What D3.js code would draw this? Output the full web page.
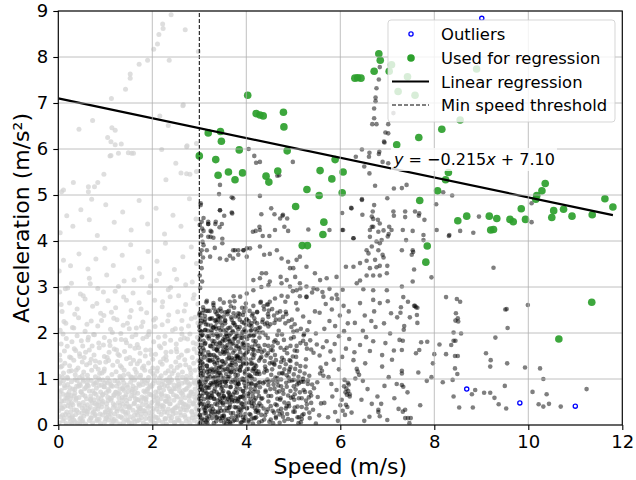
<!DOCTYPE html>
<html>
<head>
<meta charset="utf-8">
<script src="https://cdn.jsdelivr.net/npm/d3@7"></script>
<style>
  html, body { margin: 0; padding: 0; background: #fff; }
  svg { display: block; font-family: "DejaVu Sans", sans-serif; }
</style>
</head>
<body>
<div id="chart"></div>
<script>
// samples as "speed,acceleration" in hundredths
const belowThreshold = `
2,5 10,9 17,3 26,7 33,11 41,4 50,8 58,2 66,10 73,5 82,9 90,3 99,7 107,11 114,4 123,8 131,2 139,6 148,10 156,3 163,7 172,11 181,5 188,1 197,8 205,4 214,10 222,6 230,2 239,9 247,5 256,11 263,3 272,8 280,4 289,10 296,6
5,18 13,14 22,21 29,16 37,23 46,13 54,19 61,24 70,15 78,20 87,13 94,22 103,17 111,24 119,12 128,19 136,15 144,23 153,18 160,13 169,21 177,16 186,24 194,14 202,20 211,16 219,23 228,13 236,19 244,24 253,15 261,21 270,17 278,13 286,22 294,18
1,31 9,36 18,28 26,39 34,33 43,27 51,37 59,31 68,38 75,29 84,34 92,39 101,27 108,33 117,38 125,30 134,35 142,28 150,39 159,32 167,27 175,36 184,31 192,38 200,29 209,34 217,40 226,28 234,35 242,31 251,38 259,27 268,33 276,39 284,30 293,36
4,45 12,52 20,42 28,48 37,54 45,43 53,49 62,44 69,53 78,47 86,42 95,51 103,46 112,54 120,43 128,49 137,45 145,53 153,41 162,48 170,55 179,44 187,50 195,42 204,53 212,47 221,43 229,51 237,46 246,54 254,42 263,49 271,44 279,52 288,47 296,41
2,61 10,67 19,58 27,64 35,69 44,60 52,66 60,57 69,63 77,69 85,59 94,65 102,70 110,58 119,64 127,68 136,60 144,66 152,57 161,63 169,69 178,61 186,56 194,67 203,62 211,58 220,68 228,63 236,57 245,66 253,61 262,69 270,59 278,64 287,68 295,58
6,75 14,81 23,72 31,78 39,84 48,73 56,79 64,85 73,74 81,80 90,72 98,83 106,77 115,84 123,71 131,79 140,75 148,82 157,73 165,80 173,86 182,74 190,78 199,84 207,72 215,81 224,76 232,85 241,73 249,79 257,83 266,75 274,80 282,72 291,78
3,90 11,96 20,88 28,94 36,99 45,89 53,95 62,87 70,97 78,91 87,86 95,98 104,92 112,88 120,96 129,90 137,99 146,87 154,93 162,98 171,89 179,95 188,91 196,86 205,97 213,92 221,88 230,98 238,93 246,87 255,96 263,91 272,99 280,89 289,94 297,88
7,52 15,23 24,81 31,44 40,97 48,16 57,63 64,35 75,88 83,12 91,57 100,29 108,74 117,46 126,95 133,18 142,61 151,37 159,84 168,9 176,52 185,71 193,27 202,90 210,43 219,66 227,14 236,79 244,33 253,102 261,57 269,21 278,86 286,48 295,69
4,93 13,40 21,66 30,19 38,58 47,86 55,31 63,100 72,48 80,67 89,24 97,83 106,53 114,14 122,71 131,43 139,92 148,27 156,64 165,104 173,36 182,58 190,96 199,49 207,17 216,81 224,41 233,62 241,98 250,26 258,74 267,45 275,93 284,28 292,53
9,104 18,66 27,29 35,77 44,47 52,9 61,92 69,56 78,35 86,101 95,67 103,38 112,85 120,24 129,59 137,79 146,46 154,105 163,71 171,31 180,88 188,42 197,66 205,107 214,29 222,95 231,52 239,73 248,37 256,88 265,66 273,32 282,103 290,61 298,84
16,58 29,3 43,84 56,41 69,16 81,93 94,47 107,21 118,66 132,103 145,12 157,77 170,40 183,98 196,19 208,63 223,34 235,92 248,6 259,49 271,77 285,15 297,97 9,22 22,49 36,7 49,71 62,28 76,55 88,98 101,14 113,58 125,35 138,82 151,5 164,57 177,24 189,74 202,36 215,102 228,52 241,16 254,86 266,39 279,62 293,24
13,86 26,57 39,32 53,99 66,74 79,23 92,87 105,61 117,8 130,69 143,40 156,102 168,55 181,31 194,82 207,4 219,57 232,27 245,79 257,10 270,93 283,71 296,33 6,37 20,101 34,63 46,2 59,82 73,26 86,50 99,92 111,30 124,85 136,53 149,73 162,22 174,104 187,60 200,11 213,73 226,86 238,46 251,63 264,104 277,42 290,91
3,71 24,14 51,26 82,44 109,95 137,30 161,46 186,14 212,50 233,96 260,35 287,45
2,106 11,113 19,104 28,118 36,109 45,103 54,115 62,108 71,119 79,105 88,112 97,117 105,102 114,110 123,116 131,106 140,119 149,111 157,104 166,114 175,108 184,119 192,103 201,112 210,117 219,107 228,113 237,104 246,118 255,109 264,115 273,106 282,112 291,119
5,126 14,134 24,129 33,141 42,124 51,137 60,131 70,143 79,127 88,136 98,122 107,140 116,130 126,138 135,125 145,144 154,133 163,121 173,139 182,128 192,135 201,143 211,124 221,132 230,141 240,127 250,137 259,130 269,142 279,125 288,134 297,140
3,152 13,161 24,148 34,166 45,155 55,147 66,163 76,152 87,168 98,149 108,158 119,165 130,151 141,160 152,147 163,167 174,156 185,150 196,163 207,154 218,168 229,149 240,159 251,166 262,152 273,161 285,147 295,157
6,176 17,188 29,181 40,194 52,172 63,185 75,197 86,178 98,190 110,173 121,186 133,199 145,179 157,192 168,175 180,188 192,196 203,181 215,172 227,193 239,184 251,176 263,198 275,187 287,179 296,191
8,128 19,171 27,146 38,119 49,183 58,158 67,135 77,196 85,121 96,174 104,147 115,201 124,163 132,129 143,185 151,209 160,141 171,168 179,124 188,192 198,153 206,214 217,137 226,177 234,118 243,206 252,159 260,186 271,131 280,198 289,165 297,222
4,141 23,117 37,162 51,107 64,191 79,139 93,113 109,182 127,154 139,108 153,172 168,133 186,163 201,124 213,191 229,158 242,112 256,147 268,189 281,120 294,176 10,198 46,149 72,172 101,137 134,186 165,196 196,117 224,144 253,125 276,162 299,105
12,225 33,211 61,219 92,227 118,232 147,221 177,214 203,228 233,226 262,209 283,231
4,206 16,221 30,212 43,233 57,204 70,226 84,215 97,238 111,208 125,229 138,217 152,235 166,211 180,224 193,203 207,232 221,218 235,239 249,209 263,227 277,215 291,234
8,247 24,265 40,252 57,274 73,258 90,243 106,270 122,255 139,278 155,249 172,266 188,244 205,271 221,257 238,279 254,246 271,262 287,275
6,262 20,298 35,241 53,281 68,307 82,264 96,289 113,245 128,301 145,271 161,315 176,252 193,288 209,314 222,268 239,299 256,281 268,248 285,311 297,263
3,289 15,296 28,308 47,285 66,319 84,297 103,326 121,291 140,313 159,287 178,322 196,302 215,329 234,294 252,317 271,305 289,283
2,335 11,358 26,346 44,372 63,339 80,361 99,384 117,347 136,369 154,392 173,341 191,377 210,356 228,395 247,338 265,366 283,387 294,351
4,418 18,455 31,432 48,468 66,446 83,412 101,479 119,441 137,463 155,424 172,488 190,437 208,471 226,415 244,456 261,432 279,492 293,448
11,511 7,507 32,527 64,518 71,491 77,518 84,527 97,545 110,585 128,591 156,591 229,533 250,569 261,548 273,546 280,545 294,551 64,507
240,892 222,872 223,862 214,849 270,859 211,828 203,817 190,793 172,784 236,793 153,763 153,754 143,730 113,710 265,694 216,672 234,651
73,662 44,643 114,646 121,641 105,625 112,616 121,609 134,611 149,592 160,591 112,586 220,599 294,612 273,605 298,812 266,696 274,607`;

const aboveThreshold = `
301,3 306,14 311,25 315,7 320,19 326,29 331,4 336,16 341,27 346,9 352,21 357,2 362,13 367,26 372,8 378,19 383,28 388,5 393,17 398,24 404,10 409,22 414,3 419,15 425,27 302,22 318,12 333,23 349,15 365,6 380,11 396,9 411,13 427,6
300,33 305,45 310,56 314,38 319,49 324,59 329,34 334,46 339,53 344,37 350,48 355,58 360,31 365,44 370,55 375,39 381,51 386,33 391,46 396,57 401,36 406,49 412,41 417,54 422,32 428,47 303,52 317,41 332,57 347,51 363,37 378,58 394,39 409,56 425,42 313,31 358,50
301,64 306,76 311,86 316,69 321,81 326,62 331,73 336,88 341,67 347,79 352,63 357,85 362,71 367,83 372,66 378,77 383,89 388,61 393,74 398,84 404,68 409,80 414,63 419,87 425,72 429,82 303,84 318,61 333,79 349,70 364,61 380,70 395,65 411,89 427,63 344,87
300,94 305,106 310,117 315,98 320,110 325,91 330,103 335,115 340,96 346,108 351,119 356,93 361,104 366,114 371,97 377,109 382,92 387,118 392,101 397,112 402,95 408,107 413,118 418,99 423,111 429,93 303,113 318,101 334,93 349,99 364,118 379,101 396,91 411,104 426,116 342,114
301,124 306,136 311,147 316,129 322,141 327,122 333,133 338,146 344,127 349,139 355,121 360,144 366,131 371,123 377,138 382,148 388,126 393,135 399,144 404,122 410,133 415,146 421,128 427,140 304,143 319,121 336,125 352,132 369,146 386,139 401,133 417,123
302,154 308,167 313,178 319,158 325,171 331,152 337,164 344,177 350,159 356,170 363,153 369,176 375,162 381,151 388,168 394,179 400,157 406,166 413,154 419,175 425,161 305,174 322,152 340,169 359,161 378,172 397,167 416,163
301,184 307,196 313,207 320,188 326,201 332,182 339,194 345,206 351,186 358,199 364,183 371,204 377,191 383,181 390,197 396,208 402,187 409,195 415,183 422,203 428,190 304,203 317,193 336,209 354,191 373,187 392,202 411,206
300,214 306,226 312,237 318,218 324,231 330,212 337,223 343,236 349,216 355,228 362,211 368,234 374,221 380,213 386,229 393,239 399,218 405,226 411,215 417,232 423,221 429,212 434,224 440,219 444,222 447,214 303,233 340,229
301,244 308,256 315,267 322,248 330,261 337,242 345,253 352,266 360,246 367,258 375,269 383,243 391,255 399,264 407,248 415,259 423,245 431,268 438,251 446,262
303,12 347,31 319,67 388,22 336,95 411,48 362,8 301,139 374,116 326,41 399,81 355,158 314,102 421,17 342,124 309,183 383,57 330,212 368,142 405,109 317,151 349,83 392,176 300,57 337,198 426,92 358,37 323,172 381,146 414,164
306,78 345,233 372,26 397,203 329,119 418,131 362,187 311,224 352,62 386,98 301,168 334,149 420,58 366,212 343,14 308,109 393,132 355,245 322,87 379,199 411,221 337,71 300,240 349,182 386,241 327,15 403,174 368,93 316,128 430,145
342,211 375,52 309,38 360,121 398,16 331,254 384,166 417,196 352,102 305,203 338,44 369,229 392,62 321,193 411,91 356,136 303,117 345,155 380,84 327,232 428,201 363,69 314,26 400,230 336,176 388,127 352,19 419,112 307,153 372,178
340,102 395,246 318,58 365,39 383,208 328,142 409,142 301,90 347,126 374,255 333,29 420,29 359,193 312,206 393,98 340,249 380,121 305,63 351,74 423,246 367,167 325,216 397,153 315,82 358,96 333,227 388,189 311,11 344,57 376,144
406,194 323,104 363,248 392,38 303,193 349,172 416,72 331,166 368,115 309,250 387,78 338,135 355,221 426,172 318,248 401,121 364,53 345,196 310,45 382,19 330,93 418,225 371,202
308,5 351,44 327,88 394,11 362,127 301,47 376,99 418,37 339,161 386,213 312,176 355,226 404,63 331,137 369,17 417,153 303,221 344,92 390,144 325,24 377,236 411,101 358,167 317,115 398,192 336,8 383,53 306,243 349,138 421,86
364,195 320,42 401,229 342,65 372,157 313,93 389,31 357,111 426,211 328,183 405,7 347,247 378,131 309,69 366,82 395,174 334,214 415,122 353,5 386,146 303,158 340,29 375,71 412,238 325,152 360,241 398,47 318,205 382,109 432,57
337,118 367,199 308,132 391,224 348,19 405,89 322,231 363,146 416,15 343,179 378,38 301,77 355,93 429,166 331,57 372,222 397,116 314,248 351,206 387,158 338,86 407,217 366,2 323,139 394,73 355,184 311,33 381,171 426,31 344,113
370,51 301,206 400,134 330,196 361,100 415,194 340,237 384,89 318,81 353,155 398,255 328,114 376,217 412,170 305,97 365,64 391,189 337,163 421,118 349,59 375,11 312,229 402,37 326,70 358,207 383,236 307,124 339,190 418,78 369,131
346,223 395,99 316,16 360,174 387,61 334,246 409,205 322,118 379,150 353,31
304,88 317,4 329,176 341,141 356,12 368,60 381,194 394,152 407,24 419,208 302,130 314,219 327,64 339,108 352,236 365,181 377,91 390,6 403,159 416,46 428,111 310,162 323,32 336,228 348,94 361,57 373,243 386,119 399,203 412,134
306,196 319,141 332,103 344,49 357,198 370,135 383,38 395,222 408,71 420,182 301,21 313,74 326,206 338,17 351,163 364,105 376,188 389,47 402,103 414,242
433,8 440,21 446,34 452,12 459,27 465,43 471,5 478,18 484,36 490,47 497,11 503,29 509,40 516,6 522,24 529,45 535,15 542,33 548,3 555,21 432,42 457,4 468,31 487,24 512,17 528,36 538,48
438,12 462,45 451,78 476,26 489,64 445,99 503,38 468,86 514,71 481,9 527,53 497,97 456,31 540,88 509,17 473,58 534,27 522,94 447,63 491,41 552,61 463,18 518,39 485,92 536,71 443,28 501,84 559,47 478,76 512,58
437,36 462,103 449,7 480,141 495,59 444,118 471,23 508,88 456,162 489,13 515,128 441,75 466,57 499,149 476,113 452,41 519,21 486,168 459,133 503,67 438,162 474,84 511,4 492,121 448,95 527,143 465,71 481,49 500,29 447,172
432,22 439,94 447,51 455,136 463,15 470,73 478,112 486,41 494,139 502,55 510,96 518,13 526,127 533,60 441,121 458,88 474,35 490,103 506,148 522,76 435,201 451,219 467,178 484,246 500,203 446,241 463,229
434,58 441,72 447,87 453,63 460,79 466,94 472,55 479,68 486,83 492,96 499,61 505,77 512,91 518,58 525,72 531,89 538,64 544,80 551,93 436,91 457,97 474,99 494,74 520,99
432,148 439,139 443,151 450,134 452,146 460,131 463,141 471,126 474,137 481,121 484,132 491,116 494,126 501,110 504,122 511,105 514,117 521,101 524,112 531,97 534,107 440,127 455,121 470,112 486,108 501,98 517,94 446,156 461,152 476,146 492,141 507,133 438,114 453,109 466,102
433,158 439,174 446,189 452,163 459,181 466,196 473,168 480,185 487,156 494,172 501,191 508,161 515,178 522,195 529,166 536,184 543,157 550,175 441,196 456,171 469,205 481,163 495,188 507,172 521,183 538,164 548,199 462,184 476,197 503,162 527,176
430,266 437,258 444,262 448,249 455,252 459,238 466,244 471,229 478,235 483,221 490,226 496,213 503,219 508,205 516,209 523,198 530,206 435,229 447,235 460,222 472,247 485,241 497,229 509,251 521,236 534,224 546,247
450,268 461,275 475,281 488,279 499,291 515,297 528,279 540,288 551,295
557,112 561,118 564,107 558,125 570,133 575,104 581,89 586,142 592,76 597,121 603,55 609,98 615,39 620,67 589,28 566,48 574,17 583,62 595,9 600,43 610,22 618,88 556,151 563,169 571,182 579,160 588,176 597,193 604,148 612,166 619,187
566,209 577,226 589,215 599,238 608,204 616,221 556,244 569,263 582,251 594,274 607,259 618,247 562,289 577,296 592,283 605,294
611,71 614,66 617,74 613,79 620,62 608,84 616,92 605,31 612,44 624,27 632,101 637,116 635,122 640,109 628,141 648,96 653,134 658,78 645,55 662,18 667,46 651,9 630,158 642,174 655,191 648,205 663,161 670,182 675,213 666,226 631,222 652,238 672,247
681,33 681,28 684,19 687,46 679,62 694,85 700,11 703,104 689,127 710,142 715,58 720,89 724,35 731,118 689,152 696,178 706,199 714,162 726,185 735,207 693,221 708,243 721,234 729,256 744,268 738,33 743,71 747,4
344,522 342,502 369,495 372,493 429,498 303,482 344,467 353,455 370,460 319,442 334,437 348,437 335,442 343,430 326,420 319,437 324,422 319,409 330,407 349,405 309,391 305,380 316,380 333,385 323,366 344,362 358,359 372,362 365,368 376,380 383,370 394,380 408,384 401,366
302,298 306,312 301,325 305,341 303,355 308,364 302,372 307,398 304,412 306,427 301,435 305,442 309,450
429,388 438,370 450,372 465,380 475,362 489,355 507,359 514,366 500,341 493,341 504,322 486,315 473,322 475,308 450,312 442,330 433,330 429,319 447,304 432,300 415,315 415,293 401,286 387,279 373,280 365,268 344,273 330,265 316,270
344,467 369,462 303,478 319,437 324,409 309,422 349,395 372,380 383,380 394,380 401,384
414,420 420,422 429,424 435,411 449,411 472,449 461,424 460,458 489,422 481,431 487,449 477,455 432,458 428,431 453,471 478,457 532,425 577,424
514,308 528,301 543,297 557,315 571,319 592,322 546,330 514,280 528,278 564,279 582,275 493,301 507,293 528,344 506,265 483,268
604,461 604,424 623,472 646,491 647,457 669,464 672,478 680,446 667,431 663,409 700,493 713,464 714,455 704,431 703,415 628,406 606,424
662,547 674,520 651,562 714,514 702,569 690,572 683,594 662,592 646,599 405,600 417,585 429,572 421,570 499,572 470,543 466,542
612,344 628,344 642,352 656,357 660,373 656,380 667,388 677,399 684,395 681,380 690,370 692,364 674,359 663,341 677,343 684,346 700,346 699,330 684,325 670,325 656,325 642,314 635,308 649,295 670,293 699,293 670,272 684,265 701,269 642,265
670,431 667,453 670,448 684,438 663,424 681,420 692,423 688,402 701,410 709,424 624,471 646,489 628,406
684,778 682,751 677,732 675,712 675,704 672,688 672,667 668,654 677,654 702,654 702,634 696,636 694,614 693,616 682,589 661,583 633,583 713,678
731,515 741,522 738,464 738,452 759,464 768,460 767,455 779,446 754,422 733,424 740,402 777,402 777,413 731,380 754,380 755,376 752,370 757,338 754,312 794,321 731,301 734,278 759,259 764,255
805,424 804,480 819,506 838,499 855,422 832,413 831,411 883,418 895,453 926,342 825,278 848,274 855,268 954,252 999,261 1007,441 1007,482
757,259 761,256 763,239 764,222 748,234 736,215 733,183 761,156 768,163 772,180 785,181 800,154 797,134 811,175 825,154 836,174 841,183 845,183 841,201 857,199 844,150 850,150 844,123 849,111 839,98 818,93 784,96 794,104 766,114
841,62 853,38 882,38 880,67 887,76 906,70 919,70 928,59 937,45 953,36 950,85 910,156 920,141 919,127 955,134 993,125 1025,123 1032,100 1009,72 1039,67 1022,45 1032,40 1044,46 1069,40 1124,78 930,190 956,211 951,251 846,243 850,232 851,225 845,227
738,15 744,15 750,15 770,43 733,29 731,87 728,244 731,163 731,112 734,83`;

// points kept for the fit [speed, acceleration]
const regressionPoints = [
  [4.03,7.17],[4.21,6.77],[4.29,6.74],[4.36,6.72],[4.79,6.80],[4.80,6.48],[3.19,6.35],[3.45,6.38],
  [3.47,6.17],[3.85,5.98],[4.87,5.96],[3.00,5.85],[3.35,5.77],[5.89,5.77],[3.40,5.43],[3.62,5.50],
  [3.76,5.33],[3.92,5.48],[4.42,5.41],[4.48,5.28],[4.67,5.52],[5.57,5.53],[6.06,5.50],[5.82,5.35],
  [5.29,5.12],[5.55,4.99],[6.04,5.05],[5.05,4.75],[5.65,4.41],[5.63,4.14],[5.19,3.90],[5.30,3.90],
  [7.20,6.09],[6.31,7.54],[6.37,7.55],[6.44,7.54],[6.82,8.07],[6.85,7.93],[6.72,7.69],[7.04,7.69],
  [7.09,7.83],[7.43,7.57],[7.23,7.25],[7.59,7.17],[8.55,6.63],[8.90,7.74],[8.16,6.43],[7.67,6.25],
  [8.30,5.49],[8.24,5.33],[8.07,5.09],[7.69,4.88],[8.50,4.44],[8.69,4.54],[9.17,4.54],[9.33,4.49],
  [9.20,4.24],[9.26,4.25],[9.61,4.47],[9.68,4.42],[9.85,4.70],[9.94,4.47],[10.18,4.99],[10.29,5.09],
  [10.36,5.25],[10.16,4.91],[10.54,4.66],[10.50,4.51],[10.75,4.69],[10.93,4.54],[11.36,4.57],
  [11.63,4.92],[11.80,4.74],[7.85,3.89],[7.82,3.54],[11.35,2.67],[10.65,1.87]
];
const outlierPoints = [[9.01,8.84],[8.69,0.78],[9.82,0.48],[11.00,0.41]];

const slope = -0.215, intercept = 7.10;
const fitRange = [0, 11.8];
const minSpeed = 3;

const xTicks = [0, 2, 4, 6, 8, 10, 12];
const yTicks = [0, 1, 2, 3, 4, 5, 6, 7, 8, 9];
const legendItems = ["Outliers", "Used for regression", "Linear regression", "Min speed threshold"];

const parsePairs = s => s.trim().split(/\s+/).map(p => p.split(",").map(v => +v / 100));
const grayPts = parsePairs(belowThreshold);
const blackPts = parsePairs(aboveThreshold);

const W = 636, H = 480;
const pL = 58.3, pR = 622.3, pT = 11, pB = 425;

const x = d3.scaleLinear().domain([0, 12]).range([pL, pR]);
const y = d3.scaleLinear().domain([0, 9]).range([pB, pT]);

const svg = d3.select("#chart").append("svg").attr("width", W).attr("height", H);

svg.append("clipPath").attr("id", "plot")
  .append("rect").attr("x", pL).attr("y", pT).attr("width", pR - pL).attr("height", pB - pT);

const plot = svg.append("g").attr("clip-path", "url(#plot)");

plot.append("g").selectAll("circle").data(grayPts).join("circle")
  .attr("cx", d => x(d[0])).attr("cy", d => y(d[1])).attr("r", 2.5)
  .attr("fill", "#d3d3d3").attr("fill-opacity", 0.75);

plot.append("g").selectAll("circle").data(blackPts).join("circle")
  .attr("cx", d => x(d[0])).attr("cy", d => y(d[1])).attr("r", 2.3)
  .attr("fill", "#000").attr("fill-opacity", 0.5);

plot.append("g").selectAll("circle").data(regressionPoints).join("circle")
  .attr("cx", d => x(d[0])).attr("cy", d => y(d[1])).attr("r", 3.8)
  .attr("fill", "#2ca02c").attr("fill-opacity", 0.92);

plot.append("g").selectAll("circle").data(outlierPoints).join("circle")
  .attr("cx", d => x(d[0])).attr("cy", d => y(d[1])).attr("r", 2.1)
  .attr("fill", "#fff").attr("stroke", "#0000ff").attr("stroke-width", 1.3);

// grid sits over the scatter, under the lines
const grid = svg.append("g").attr("stroke", "#b0b0b0").attr("stroke-width", 0.8);
grid.selectAll(".gx").data(xTicks).join("line")
  .attr("x1", d => x(d)).attr("x2", d => x(d)).attr("y1", pT).attr("y2", pB);
grid.selectAll(".gy").data(yTicks).join("line")
  .attr("x1", pL).attr("x2", pR).attr("y1", d => y(d)).attr("y2", d => y(d));

plot.append("line")
  .attr("x1", x(fitRange[0])).attr("y1", y(intercept + slope * fitRange[0]))
  .attr("x2", x(fitRange[1])).attr("y2", y(intercept + slope * fitRange[1]))
  .attr("stroke", "#000").attr("stroke-width", 2.2);

plot.append("line")
  .attr("x1", x(minSpeed)).attr("x2", x(minSpeed)).attr("y1", y(0)).attr("y2", y(9))
  .attr("stroke", "#000").attr("stroke-width", 1).attr("stroke-dasharray", "4,2");

// frame + axes
svg.append("rect").attr("x", pL).attr("y", pT).attr("width", pR - pL).attr("height", pB - pT)
  .attr("fill", "none").attr("stroke", "#000").attr("stroke-width", 1.1);

const xAxis = svg.append("g").attr("transform", `translate(0,${pB})`)
  .call(d3.axisBottom(x).tickValues(xTicks).tickSize(5).tickPadding(5).tickFormat(d3.format("d")));
const yAxis = svg.append("g").attr("transform", `translate(${pL},0)`)
  .call(d3.axisLeft(y).tickValues(yTicks).tickSize(5).tickPadding(5).tickFormat(d3.format("d")));
[xAxis, yAxis].forEach(a => {
  a.select(".domain").remove();
  a.selectAll("line").attr("stroke", "#000").attr("stroke-width", 1.1);
  a.selectAll("text").attr("fill", "#000").style("font-size", "18px").style("font-family", "DejaVu Sans");
});

svg.append("text").attr("x", (pL + pR) / 2).attr("y", 474).attr("text-anchor", "middle")
  .style("font-size", "22px").text("Speed (m/s)");
svg.append("text").attr("transform", `translate(29,${(pT + pB) / 2}) rotate(-90)`)
  .attr("text-anchor", "middle").style("font-size", "22px").text("Acceleration (m/s²)");

// equation label
const eq = svg.append("g");
eq.append("rect").attr("x", 391).attr("y", 148).attr("width", 166).attr("height", 23)
  .attr("fill", "#fff").attr("fill-opacity", 0.8);
const eqText = eq.append("text").attr("x", 394).attr("y", 165).style("font-size", "16px");
eqText.append("tspan").style("font-style", "italic").text("y");
eqText.append("tspan").text(" = −0.215");
eqText.append("tspan").style("font-style", "italic").text("x");
eqText.append("tspan").text(" + 7.10");

// legend
const lg = svg.append("g");
lg.append("rect").attr("x", 388).attr("y", 20).attr("width", 227).attr("height", 102).attr("rx", 3)
  .attr("fill", "#fff").attr("fill-opacity", 0.8).attr("stroke", "#cccccc").attr("stroke-opacity", 0.8);
const rowY = [34, 58, 81.5, 105];
lg.append("circle").attr("cx", 411).attr("cy", rowY[0]).attr("r", 2.1)
  .attr("fill", "#fff").attr("stroke", "#0000ff").attr("stroke-width", 1.3);
lg.append("circle").attr("cx", 411).attr("cy", rowY[1]).attr("r", 3.8).attr("fill", "#2ca02c");
lg.append("line").attr("x1", 392).attr("x2", 429).attr("y1", rowY[2]).attr("y2", rowY[2])
  .attr("stroke", "#000").attr("stroke-width", 2.2);
lg.append("line").attr("x1", 392).attr("x2", 429).attr("y1", rowY[3]).attr("y2", rowY[3])
  .attr("stroke", "#000").attr("stroke-width", 1).attr("stroke-dasharray", "4,2");
lg.selectAll(".lt").data(legendItems).join("text")
  .attr("x", 441).attr("y", (d, i) => rowY[i] + 6)
  .style("font-size", "16.4px").text(d => d);
</script>
</body>
</html>
